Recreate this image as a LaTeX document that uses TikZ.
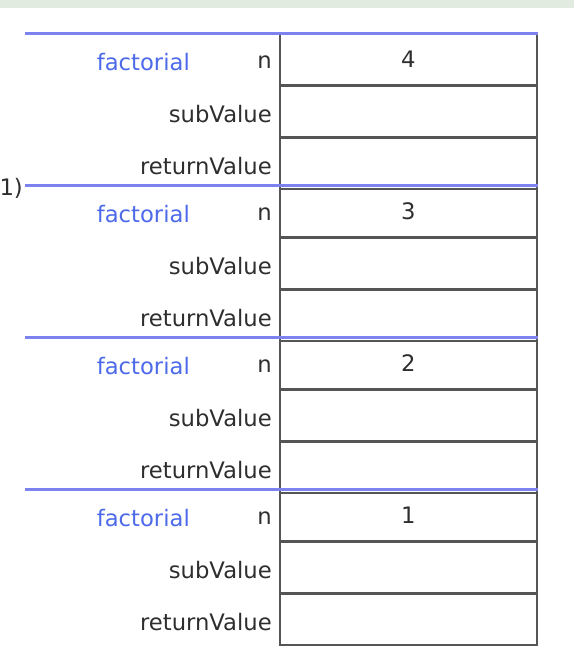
\documentclass[tikz,border=0pt]{standalone}
\usepackage{fontspec}
\setmainfont{DejaVu Sans}
\usepackage{xcolor}
\usetikzlibrary{positioning}

\definecolor{bandgreen}{HTML}{E2EBE0}
\definecolor{frameblue}{HTML}{7C82EE}
\definecolor{namblue}{HTML}{4C6AEA}
\definecolor{cellgray}{HTML}{555555}
\definecolor{labelgray}{HTML}{2E2E2E}

\begin{document}
\begin{tikzpicture}[x=1pt,y=-1pt,every node/.append style={font=\fontsize{22.7}{27}\selectfont},
  cell/.style={draw=cellgray, line width=1.5pt, minimum width=257pt, minimum height=50.67pt, inner sep=0pt, text=labelgray},
  lbl/.style={anchor=east, inner sep=0pt, text=labelgray},
  fname/.style={anchor=east, inner sep=0pt, text=namblue},
  frameline/.style={draw=frameblue, line width=3pt}]
    \useasboundingbox (0,0) rectangle (574,670);
    \fill[bandgreen] (0,0) rectangle (574,8);
    % one stack frame per call
    \foreach \v [count=\i from 0] in {4,3,2,1} {
      \pgfmathsetmacro\top{33+152*\i}
      \coordinate (fl\i) at (25,\top);
      \node[cell, anchor=north west] (n\i) at (279,\top) {\v};
      \node[cell, below=0pt of n\i] (sub\i) {};
      \node[cell, below=0pt of sub\i] (ret\i) {};
      \node[lbl] (nl\i) at ([xshift=-7pt,yshift=-3pt]n\i.west) {n};
      \node[fname] (fn\i) at ([xshift=-89pt,yshift=-3pt]n\i.west) {factorial};
      \node[lbl] (sl\i) at ([xshift=-7pt,yshift=-3pt]sub\i.west) {subValue};
      \node[lbl] (rl\i) at ([xshift=-7pt,yshift=-3pt]ret\i.west) {returnValue};
      \draw[frameline] (fl\i) -- ([xshift=0.75pt]n\i.north east);
    }
    \node[lbl] (mark) at ([xshift=-2pt,yshift=-3pt]fl1) {1)};
\end{tikzpicture}
\end{document}
